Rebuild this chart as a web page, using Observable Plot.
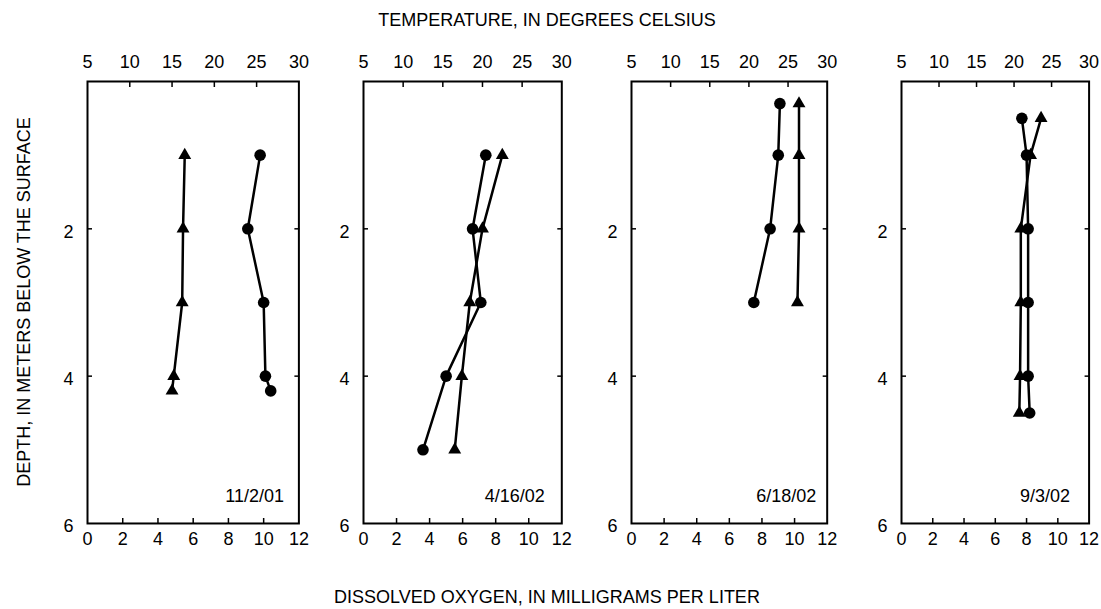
<!DOCTYPE html>
<html><head><meta charset="utf-8">
<script src="https://cdn.jsdelivr.net/npm/d3@7"></script>
<script src="https://cdn.jsdelivr.net/npm/@observablehq/plot@0.6"></script>
<style>
body{margin:0;background:#fff;}
#chart{position:relative;width:1101px;height:609px;font-family:"Liberation Sans",Arial,sans-serif;color:#000;overflow:hidden;}
.panel{position:absolute;top:0;}
.title{position:absolute;font-size:18px;white-space:nowrap;line-height:1;}
</style></head><body><div id="chart"></div>
<script>
// ---- data ----
const dates = ["11/2/01", "4/16/02", "6/18/02", "9/3/02"];
const tempDepth = [[1, 2, 3, 4, 4.2], [1, 2, 3, 4, 5], [0.3, 1, 2, 3], [0.5, 1, 2, 3, 4, 4.5]];
const tempValues = [[16.5, 16.3, 16.2, 15.2, 15.0], [22.5, 20.0, 18.4, 17.4, 16.5], [26.4, 26.4, 26.4, 26.2], [23.6, 22.2, 20.9, 20.9, 20.8, 20.7]];
const doDepth = [[1, 2, 3, 4, 4.2], [1, 2, 3, 4, 5], [0.3, 1, 2, 3], [0.5, 1, 2, 3, 4, 4.5]];
const doValues = [[9.8, 9.1, 10.0, 10.1, 10.4], [7.4, 6.6, 7.1, 5.0, 3.6], [9.1, 9.0, 8.5, 7.5], [7.7, 8.0, 8.1, 8.1, 8.1, 8.2]];
const tempTicks = [5, 10, 15, 20, 25, 30];
const doTicks = [0, 2, 4, 6, 8, 10, 12];
const depthTicks = [2, 4, 6];

// ---- layout (styles only) ----
const layout = [
  {left: 87.3, width: 211.4, labelGap: 15},
  {left: 362.7, width: 198.3, labelGap: 17},
  {left: 631.0, width: 195.7, labelGap: 11},
  {left: 900.7, width: 187.6, labelGap: 19}
];
const ML = 40, MR = 20, MT = 81, MB = 86, H = 609, FS = 18;
const tempToX = t => (t - 5) * 12 / 25;   // temperature (5–30) shares the DO axis (0–12)
const xToTemp = x => String(Math.round(x * 25 / 12 + 5));

const chart = document.getElementById("chart");

dates.forEach((date, i) => {
  const L = layout[i];
  const tRows = tempDepth[i].map((d, j) => ({depth: d, temp: tempValues[i][j]}));
  const oRows = doDepth[i].map((d, j) => ({depth: d, oxygen: doValues[i][j]}));
  const inner = a => a.slice(1, -1);
  const svg = Plot.plot({
    width: L.width + ML + MR,
    height: H,
    marginLeft: ML, marginRight: MR, marginTop: MT, marginBottom: MB,
    style: {fontFamily: "Liberation Sans, Arial, sans-serif", fontSize: FS + "px", background: "transparent", overflow: "visible", maxWidth: "none"},
    x: {domain: [0, 12]},
    y: {domain: [0, 6], reverse: true},
    marks: [
      // bottom DO axis
      Plot.axisX(doTicks, {anchor: "bottom", tickSize: 0, tickPadding: 9, fontSize: FS, tickFormat: d => String(d), label: null}),
      Plot.axisX(inner(doTicks), {anchor: "bottom", tickSize: -5, fill: "none", strokeWidth: 1.5, label: null}),
      // top temperature axis
      Plot.axisX(tempTicks.map(tempToX), {anchor: "top", tickSize: 0, tickPadding: 13, fontSize: FS, tickFormat: xToTemp, label: null}),
      Plot.axisX(inner(tempTicks).map(tempToX), {anchor: "top", tickSize: -5, fill: "none", strokeWidth: 1.5, label: null}),
      // depth axis
      Plot.axisY(depthTicks, {anchor: "left", tickSize: 0, tickPadding: 14, fontSize: FS, dy: 3, tickFormat: d => String(d), label: null}),
      Plot.axisY([2, 4], {anchor: "left", tickSize: -5, fill: "none", strokeWidth: 1.5, label: null}),
      Plot.axisY([2, 4], {anchor: "right", tickSize: -5, fill: "none", strokeWidth: 1.5, label: null}),
      Plot.frame({stroke: "black", strokeWidth: 2}),
      // profiles
      Plot.line(tRows, {x: d => tempToX(d.temp), y: "depth", stroke: "black", strokeWidth: 2.5}),
      Plot.line(oRows, {x: "oxygen", y: "depth", stroke: "black", strokeWidth: 2.5}),
      Plot.dot(tRows, {x: d => tempToX(d.temp), y: "depth", symbol: "triangle", r: 4.8, fill: "black", stroke: "none"}),
      Plot.dot(oRows, {x: "oxygen", y: "depth", symbol: "circle", r: 5.8, fill: "black", stroke: "none"}),
      Plot.text([date], {frameAnchor: "bottom-right", text: d => d, textAnchor: "end", lineAnchor: "bottom", dx: -L.labelGap, dy: -21, fontSize: FS, fill: "black"})
    ]
  });
  svg.classList.add("panel");
  svg.style.left = (L.left - ML) + "px";
  svg.style.top = "0px";
  chart.appendChild(svg);
});

function addTitle(text, cx, cy, rotate) {
  const d = document.createElement("div");
  d.className = "title";
  d.textContent = text;
  d.style.left = cx + "px";
  d.style.top = cy + "px";
  d.style.transform = "translate(-50%,-50%)" + (rotate ? " rotate(-90deg)" : "");
  chart.appendChild(d);
}
addTitle("TEMPERATURE, IN DEGREES CELSIUS", 547, 20, false);
addTitle("DISSOLVED OXYGEN, IN MILLIGRAMS PER LITER", 547, 597, false);
addTitle("DEPTH, IN METERS BELOW THE SURFACE", 24, 302, true);
</script></body></html>
